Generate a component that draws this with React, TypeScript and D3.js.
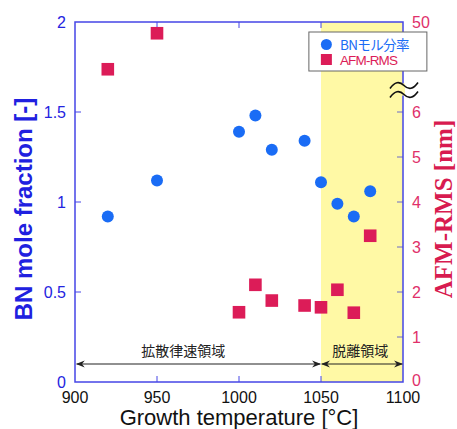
import * as d3 from 'd3';

const temps = [920, 950, 1000, 1010, 1020, 1040, 1050, 1060, 1070, 1080];
const bnFraction = [0.92, 1.12, 1.39, 1.48, 1.29, 1.34, 1.11, 0.99, 0.92, 1.06];
const afmRms = [39.5, 47.5, 1.55, 2.16, 1.81, 1.7, 1.66, 2.05, 1.54, 3.25];

const xTicks = [900, 950, 1000, 1050, 1100];
const leftTicks = [0, 0.5, 1, 1.5, 2];
const rightTicks = [0, 1, 2, 3, 4, 5, 6, 40, 50];
const rightLabels = ['0', '1', '2', '3', '4', '5', '6', '', '50'];

const W = 457;
const H = 429;
const m = { left: 75, top: 22, right: 54, bottom: 47 };
const iw = W - m.left - m.right;
const ih = H - m.top - m.bottom;

const FRAME = '#4646e6';
const BLUE = '#1a6cf5';
const RED = '#dc1c58';

export default function App() {
  const x = d3.scaleLinear().domain([900, 1100]).range([0, iw]);
  const yL = d3.scaleLinear().domain([0, 2]).range([ih, 0]);
  // broken right axis: 0..6.5 linear, then jump to 35..50
  const slot = ih / 8;
  const yR = d3
    .scaleLinear()
    .domain([0, 6.5, 35, 50])
    .range([ih, ih - 6.5 * slot, ih - 6.5 * slot, 0]);

  const sans = 'Arial, "Liberation Sans", sans-serif';
  const jp = '"Noto Sans CJK JP", sans-serif';
  const arrowY = yL(0.1);
  const tilde = 'M-14,3 Q-7,-7 0,0 T14,-3';
  const breakY = ih - 6.5 * slot;

  return (
    <svg width={W} height={H} style={{ position: 'absolute', left: 0, top: 0 }} fontFamily={sans}>
      <defs>
        <marker id="arr" viewBox="0 0 10 10" refX="9" refY="5" markerWidth="9" markerHeight="9" orient="auto-start-reverse" markerUnits="userSpaceOnUse">
          <path d="M0,1 L10,5 L0,9 L3,5 z" fill="#222" />
        </marker>
      </defs>
      <rect width={W} height={H} fill="#fff" />
      <g transform={`translate(${m.left},${m.top})`}>
        <rect x={x(1050)} y={0} width={x(1100) - x(1050)} height={ih} fill="#fff9a5" />

        {/* ticks */}
        {xTicks.slice(1, -1).map(t => (
          <g key={t}>
            <line x1={x(t)} x2={x(t)} y1={0} y2={6} stroke={FRAME} />
            <line x1={x(t)} x2={x(t)} y1={ih} y2={ih - 6} stroke={FRAME} />
          </g>
        ))}
        {leftTicks.slice(1, -1).map(t => (
          <line key={t} x1={0} x2={6} y1={yL(t)} y2={yL(t)} stroke={FRAME} />
        ))}
        {rightTicks.slice(1, -1).map(t => (
          <line key={t} x1={iw} x2={iw - 6} y1={yR(t)} y2={yR(t)} stroke="#6a6ac8" />
        ))}

        <rect x={0} y={0} width={iw} height={ih} fill="none" stroke={FRAME} strokeWidth={1.5} />

        {/* axis break */}
        <rect x={iw - 2} y={breakY - 6} width={4} height={12} fill="#fff9a5" />
        <g transform={`translate(${iw + 1},${breakY - 4})`} fill="none" stroke="#111" strokeWidth={1.6}>
          <path d={tilde} />
          <path d={tilde} transform="translate(0,9)" />
        </g>

        {/* tick labels */}
        {xTicks.map(t => (
          <text key={t} x={x(t)} y={ih + 21} textAnchor="middle" fontSize={16} fill="#111">{t}</text>
        ))}
        {leftTicks.map(t => (
          <text key={t} x={-9} y={yL(t) + 6} textAnchor="end" fontSize={16} fill="#2424e0">{t}</text>
        ))}
        {rightTicks.map((t, i) => (
          <text key={t} x={iw + 9} y={yR(t) + (t === 0 ? 4 : 6)} textAnchor="start" fontSize={16} fill="#e0306a">{rightLabels[i]}</text>
        ))}

        {/* data */}
        {temps.map((t, i) => (
          <circle key={'c' + t} cx={x(t)} cy={yL(bnFraction[i])} r={6} fill={BLUE} />
        ))}
        {temps.map((t, i) => (
          <rect key={'s' + t} x={x(t) - 6.3} y={yR(afmRms[i]) - 6.3} width={12.6} height={12.6} fill={RED} />
        ))}

        {/* regime annotations */}
        <line x1={x(901)} x2={x(1049.5)} y1={arrowY} y2={arrowY} stroke="#222" strokeWidth={1.2} markerStart="url(#arr)" markerEnd="url(#arr)" />
        <line x1={x(1050.5)} x2={x(1099.5)} y1={arrowY} y2={arrowY} stroke="#222" strokeWidth={1.2} markerStart="url(#arr)" markerEnd="url(#arr)" />
        <text x={x(966)} y={arrowY - 8} textAnchor="middle" fontSize={14} fontFamily={jp} fill="#222">拡散律速領域</text>
        <text x={x(1074)} y={arrowY - 8} textAnchor="middle" fontSize={14} fontFamily={jp} fill="#222">脱離領域</text>

        {/* legend */}
        <g transform={`translate(${x(1042) + 1},10)`}>
          <rect width={118} height={39} fill="#fff" stroke="#666" strokeWidth={1} />
          <circle cx={17.5} cy={12.5} r={5.5} fill={BLUE} />
          <rect x={12} y={22} width={11} height={11} fill={RED} />
          <text x={31} y={17.5} fontSize={13.5} fontFamily={jp} fill={BLUE} letterSpacing={-0.6}>BNモル分率</text>
          <text x={31} y={33} fontSize={13.5} fill={RED} letterSpacing={-0.8}>AFM-RMS</text>
        </g>
      </g>

      {/* axis titles */}
      <text x={m.left + iw / 2} y={425} textAnchor="middle" fontSize={22} fill="#111">Growth temperature [°C]</text>
      <text transform={`translate(32,209) rotate(-90)`} textAnchor="middle" fontSize={24} fontWeight="bold" fill="#2020e0">BN mole fraction [-]</text>
      <text transform={`translate(452,209) rotate(-90)`} textAnchor="middle" fontSize={25} fontWeight="bold" fontFamily='"Liberation Serif", "Times New Roman", serif' fill="#d81b50">AFM-RMS [nm]</text>
    </svg>
  );
}
